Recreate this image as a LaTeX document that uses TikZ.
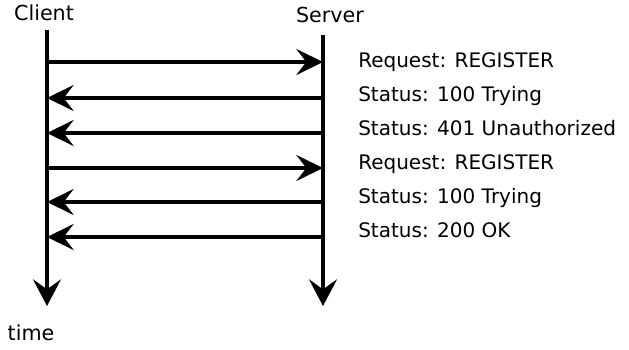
\documentclass[tikz,border=0pt]{standalone}
\usepackage{fontspec}
\setmainfont{DejaVu Sans}
\usetikzlibrary{arrows.meta}
\tikzset{
  lifeline/.style={line width=2.5pt,-{Stealth[length=20pt,width=21pt,inset=7.5pt]}},
  msg/.style={line width=2.5pt,-{Stealth[length=20pt,width=19.5pt,inset=7.5pt]}},
  msglabel/.style={anchor=west,inner sep=0pt,text height=0.75em,text depth=0.22em,
    font=\fontsize{15}{18}\selectfont},
  party/.style={inner sep=0pt,text height=0.75em,text depth=0.22em,
    font=\fontsize{15.5}{18}\selectfont}
}
\begin{document}
\begin{tikzpicture}[x=0.75pt,y=-0.75pt]
\useasboundingbox (0,0) rectangle (629,350);

\node[party] (client) at (44,17) {Client};
\node[party] (server) at (330,19) {Server};
\node[party] (time) at (31,337) {time};

\coordinate (ctop) at (47,30);
\coordinate (cend) at (47,306);
\coordinate (stop) at (323,35);
\coordinate (send) at (323,306);

\draw[lifeline] (ctop) -- (cend);
\draw[lifeline] (stop) -- (send);

\coordinate (c1) at (47,62);  \coordinate (s1) at (323,62);
\coordinate (c2) at (47,98);  \coordinate (s2) at (323,98);
\coordinate (c3) at (47,133); \coordinate (s3) at (323,133);
\coordinate (c4) at (47,168); \coordinate (s4) at (323,168);
\coordinate (c5) at (47,202); \coordinate (s5) at (323,202);
\coordinate (c6) at (47,237); \coordinate (s6) at (323,237);

\draw[msg] (c1) -- (s1);
\draw[msg] (s2) -- (c2);
\draw[msg] (s3) -- (c3);
\draw[msg] (c4) -- (s4);
\draw[msg] (s5) -- (c5);
\draw[msg] (s6) -- (c6);

\node[msglabel] (m1) at (358,64) {Request: REGISTER};
\node[msglabel] (m2) at (358,98) {Status: 100 Trying};
\node[msglabel] (m3) at (358,132) {Status: 401 Unauthorized};
\node[msglabel] (m4) at (358,166) {Request: REGISTER};
\node[msglabel] (m5) at (358,200) {Status: 100 Trying};
\node[msglabel] (m6) at (358,234) {Status: 200 OK};
\end{tikzpicture}
\end{document}
